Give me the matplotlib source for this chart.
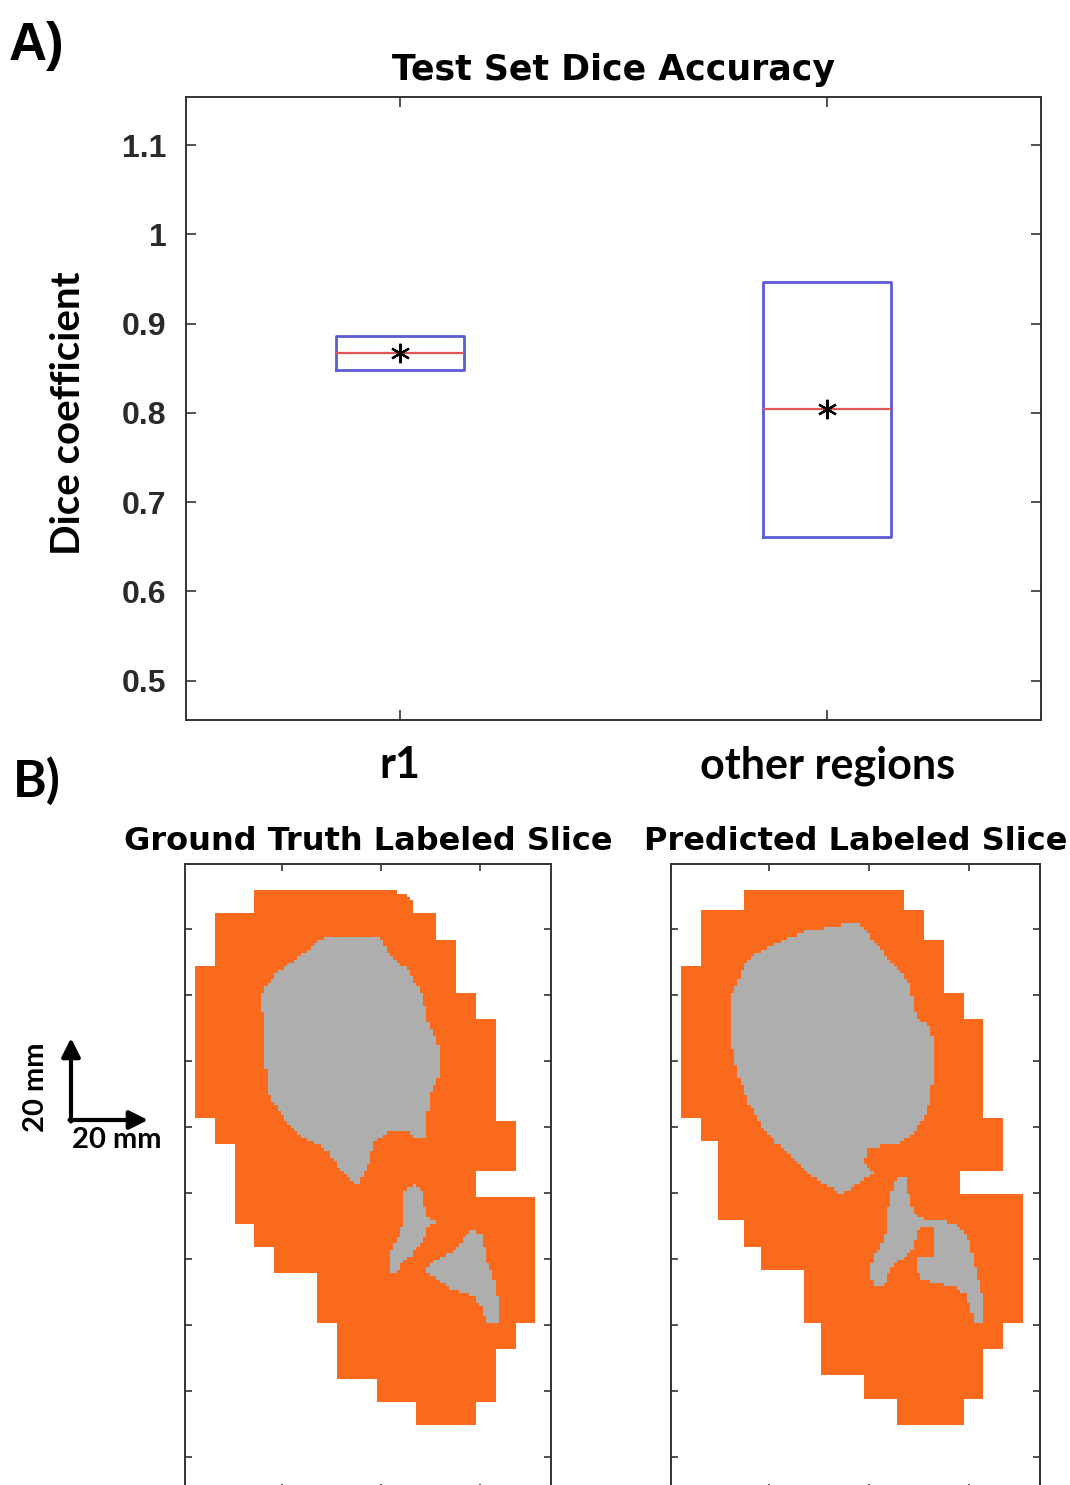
import numpy as np
import matplotlib.pyplot as plt
from matplotlib.path import Path
from matplotlib.colors import ListedColormap

W, H = 1070, 1485

# ---- panel A: test set dice accuracy ----
groups = ['r1', 'other regions']
q1 = [0.848, 0.661]
median = [0.867, 0.8045]
q3 = [0.886, 0.947]
mean = [0.867, 0.804]
yticks = [0.5, 0.6, 0.7, 0.8, 0.9, 1.0, 1.1]
ytick_labels = ['0.5', '0.6', '0.7', '0.8', '0.9', '1', '1.1']

# ---- panel B: label slices (outlines in image pixels, 111 x 190 slice) ----
img_w, img_h = 111, 190
gt_tissue = [(20.9, 8.3), (63.1, 8.3), (65.2, 8.8), (68.2, 10.3), (69.2, 11.3), (69.2, 14.5),
             (75.5, 14.5), (75.5, 22.9), (81.5, 22.9), (81.5, 38.6), (87.9, 38.6), (87.9, 47.0),
             (93.9, 47.0), (93.9, 78.0), (99.8, 78.0), (99.8, 92.6), (87.9, 92.6), (87.9, 100.7),
             (105.8, 100.7), (105.8, 139.3), (99.8, 139.3), (99.8, 147.4), (93.9, 147.4),
             (93.9, 162.5), (87.9, 162.5), (87.9, 170.2), (69.7, 170.2), (69.7, 162.5),
             (57.6, 162.5), (57.6, 155.5), (45.7, 155.5), (45.7, 139.3), (39.7, 139.3),
             (39.7, 123.5), (27.3, 123.5), (27.3, 116.4), (20.9, 116.4), (20.9, 108.6),
             (15.2, 108.6), (15.2, 85.1), (9.3, 85.1), (9.3, 77.0), (3.2, 77.0), (3.2, 31.0),
             (9.3, 31.0), (9.3, 14.5), (20.9, 14.5)]
gt_lesion_main = [(43.9, 21.7), (59.1, 21.7), (61.1, 27.0), (67.2, 32.0), (71.2, 38.1), (72.7, 43.2),
                  (73.7, 49.2), (76.3, 53.2), (77.3, 61.3), (76.3, 65.4), (73.7, 70.4), (73.2, 82.5),
                  (69.2, 83.0), (67.2, 80.5), (61.1, 81.5), (57.1, 84.1), (56.1, 89.6), (54.5, 92.6),
                  (52.0, 97.7), (48.5, 93.5), (47.0, 92.6), (43.9, 87.6), (38.9, 84.5), (33.8, 81.5),
                  (28.8, 75.5), (25.2, 69.4), (24.2, 59.3), (23.2, 39.1), (25.2, 36.1), (28.8, 32.0),
                  (33.3, 29.0), (36.9, 26.5), (40.9, 22.9)]
gt_lesion_mid = [(66.2, 98.7), (69.2, 97.2), (71.7, 98.7), (72.2, 102.7), (73.7, 107.8), (76.8, 108.6),
                 (73.2, 109.6), (72.7, 112.8), (69.2, 117.9), (65.2, 121.4), (63.6, 124.5),
                 (62.1, 123.9), (62.3, 116.9), (64.1, 113.8), (66.2, 108.8), (66.0, 102.7)]
gt_lesion_low = [(87.4, 110.8), (89.9, 112.8), (90.9, 118.9), (93.4, 126.0), (94.9, 133.0),
                 (94.9, 139.1), (91.4, 139.1), (89.9, 135.1), (87.4, 131.0), (81.3, 129.0),
                 (76.3, 126.0), (73.2, 123.5), (73.7, 121.4), (78.3, 118.9), (83.3, 115.9),
                 (84.8, 112.3)]

pred_tissue = [(21.6, 8.3), (69.9, 8.3), (69.9, 14.4), (75.8, 14.4), (75.8, 22.7), (81.5, 22.7),
               (81.5, 38.6), (87.6, 38.6), (87.6, 47.2), (94.1, 47.2), (94.1, 77.0), (100.0, 77.0),
               (100.0, 92.6), (87.1, 92.6), (87.1, 100.2), (106.3, 100.2), (106.3, 139.1),
               (100.4, 139.1), (100.4, 147.2), (94.1, 147.2), (94.1, 162.3), (87.6, 162.3),
               (87.6, 169.9), (68.4, 169.9), (68.4, 162.3), (58.3, 162.3), (58.3, 155.3),
               (45.4, 155.3), (45.4, 139.1), (39.6, 139.1), (39.6, 122.9), (27.5, 122.9),
               (27.5, 115.9), (21.6, 115.9), (21.6, 108.3), (14.3, 108.3), (14.3, 83.5),
               (9.0, 83.5), (9.0, 77.0), (3.2, 77.0), (3.2, 31.0), (9.0, 31.0), (9.0, 14.4),
               (21.6, 14.4)]
pred_lesion_main = [(56.3, 17.9), (58.8, 20.4), (60.8, 22.9), (64.8, 28.0), (68.9, 32.0), (71.4, 36.1),
                    (72.9, 41.1), (73.4, 45.2), (74.9, 47.2), (78.0, 49.2), (78.8, 53.2), (78.8, 64.4),
                    (78.0, 71.4), (76.0, 77.5), (72.9, 81.5), (68.9, 84.5), (62.8, 85.6), (58.8, 86.6),
                    (58.3, 90.6), (60.8, 93.6), (57.8, 95.7), (51.2, 100.2), (45.7, 96.7),
                    (42.6, 94.7), (41.6, 93.6), (36.6, 89.6), (31.5, 84.5), (27.5, 79.5),
                    (23.4, 72.4), (19.9, 63.3), (18.4, 55.3), (17.9, 47.2), (18.4, 39.1),
                    (20.4, 35.1), (22.9, 29.0), (25.5, 27.0), (30.5, 25.0), (35.5, 22.4),
                    (40.6, 20.4), (46.7, 19.4), (51.7, 18.4)]
pred_lesion_low = [(67.7, 95.2), (70.7, 95.2), (71.4, 99.7), (72.4, 104.2), (74.1, 107.0), (77.0, 107.8),
                   (83.0, 108.3), (87.1, 110.0), (89.3, 112.8), (90.6, 118.9), (92.3, 125.0),
                   (93.9, 132.0), (94.3, 139.1), (91.6, 139.1), (90.3, 135.1), (88.6, 130.5),
                   (85.1, 128.2), (79.0, 127.0), (75.2, 125.5), (73.7, 122.9), (73.5, 119.1),
                   (79.0, 118.7), (79.0, 110.0), (75.5, 109.6), (73.7, 112.8), (73.1, 116.9),
                   (70.4, 119.1), (67.9, 120.4), (65.4, 123.9), (64.3, 128.0), (60.8, 128.0),
                   (60.0, 122.9), (61.0, 118.7), (63.3, 115.4), (64.6, 111.8), (65.1, 106.8),
                   (65.7, 102.2), (66.7, 98.2)]

blue = '#5B5BD3'
red = '#E05555'
orange = '#FA6A1C'
gray = '#AEAEAE'
spine_col = '#333333'


def px(x, y):
    return x / W, 1 - y / H


def label_map(tissue, lesions):
    xx, yy = np.meshgrid(np.arange(img_w) + 0.5, np.arange(img_h) + 0.5)
    pts = np.column_stack([xx.ravel(), yy.ravel()])
    lab = np.zeros(img_w * img_h)
    lab[Path(tissue).contains_points(pts)] = 1
    for les in lesions:
        lab[Path(les).contains_points(pts)] = 2
    return lab.reshape(img_h, img_w)


fig = plt.figure(figsize=(W / 100, H / 100), dpi=100)

# panel A
ax = fig.add_axes([186 / W, 1 - 720 / H, (1041 - 186) / W, (720 - 97) / H])
stats = [dict(label=g, q1=a, med=m, q3=b, whislo=a, whishi=b, mean=mu, fliers=[])
         for g, a, m, b, mu in zip(groups, q1, median, q3, mean)]
ax.bxp(stats, positions=[1, 2], widths=0.3, showcaps=False, showmeans=True, showfliers=False,
       boxprops=dict(color=blue, linewidth=2.0),
       medianprops=dict(color=red, linewidth=1.6),
       whiskerprops=dict(linewidth=0),
       meanprops=dict(marker=(6, 2, 0), markerfacecolor='k', markeredgecolor='k',
                      markersize=14, markeredgewidth=1.6))
ax.set_xlim(0.5, 2.5)
ax.set_ylim(0.456, 1.154)
ax.set_xticks([1, 2])
ax.set_xticklabels(groups, fontfamily='Lato', fontweight='bold', fontsize=31)
ax.set_yticks(yticks)
ax.set_yticklabels(ytick_labels, fontfamily='Liberation Sans', fontweight='bold',
                   fontsize=23, color='#2a2a2a')
ax.tick_params(direction='in', top=True, right=True, length=7, width=1.2, color=spine_col)
ax.tick_params(axis='x', pad=18)
ax.tick_params(axis='y', pad=14)
for s in ax.spines.values():
    s.set_color(spine_col)
    s.set_linewidth(1.4)
ax.set_title('Test Set Dice Accuracy', fontfamily='DejaVu Sans', fontweight='bold',
             fontsize=25, pad=12)

fig.text(*px(68, 413), 'Dice coefficient', rotation=90, ha='center', va='center',
         fontfamily='Lato', fontweight='bold', fontsize=29)
fig.text(*px(9, 46), 'A)', ha='left', va='center', fontfamily='Liberation Sans',
         fontweight='bold', fontsize=38)
fig.text(*px(13, 781), 'B)', ha='left', va='center', fontfamily='Lato',
         fontweight='bold', fontsize=37)

# panel B
cmap = ListedColormap(['white', orange, gray])
slices = [
    ('Ground Truth Labeled Slice', gt_tissue, [gt_lesion_main, gt_lesion_mid, gt_lesion_low], 185, 366.3),
    ('Predicted Labeled Slice', pred_tissue, [pred_lesion_main, pred_lesion_low], 671, 369.0),
]
for title, tissue, lesions, left, width in slices:
    axi = fig.add_axes([left / W, 1 - (864.3 + 627) / H, width / W, 627 / H])
    axi.imshow(label_map(tissue, lesions), cmap=cmap, vmin=0, vmax=2, interpolation='nearest',
               extent=(0, img_w, img_h, 0), aspect='auto')
    axi.set_xticks(np.arange(30, img_w, 30) - 0.5)
    axi.set_yticks(np.arange(20, img_h, 20) - 0.5)
    axi.set_xticklabels([])
    axi.set_yticklabels([])
    axi.tick_params(direction='in', top=True, right=True, length=5, width=1.2, color=spine_col)
    for s in axi.spines.values():
        s.set_color(spine_col)
        s.set_linewidth(1.4)
    axi.set_title(title, fontfamily='DejaVu Sans', fontweight='bold', fontsize=23, pad=10)

# scale bar
arrow = dict(arrowstyle='-|>', lw=3, color='k', mutation_scale=28, shrinkA=0, shrinkB=0)
fig.add_artist(plt.Annotation('', xy=px(148, 1120), xytext=px(69.5, 1120),
                              xycoords='figure fraction', textcoords='figure fraction',
                              arrowprops=arrow))
fig.add_artist(plt.Annotation('', xy=px(71, 1038), xytext=px(71, 1121.5),
                              xycoords='figure fraction', textcoords='figure fraction',
                              arrowprops=arrow))
fig.text(*px(117, 1140), '20 mm', ha='center', va='center', fontfamily='Lato',
         fontweight='bold', fontsize=21)
fig.text(*px(36, 1087), '20 mm', rotation=90, ha='center', va='center', fontfamily='Lato',
         fontweight='bold', fontsize=21)

fig.savefig('out.png', dpi=100)
